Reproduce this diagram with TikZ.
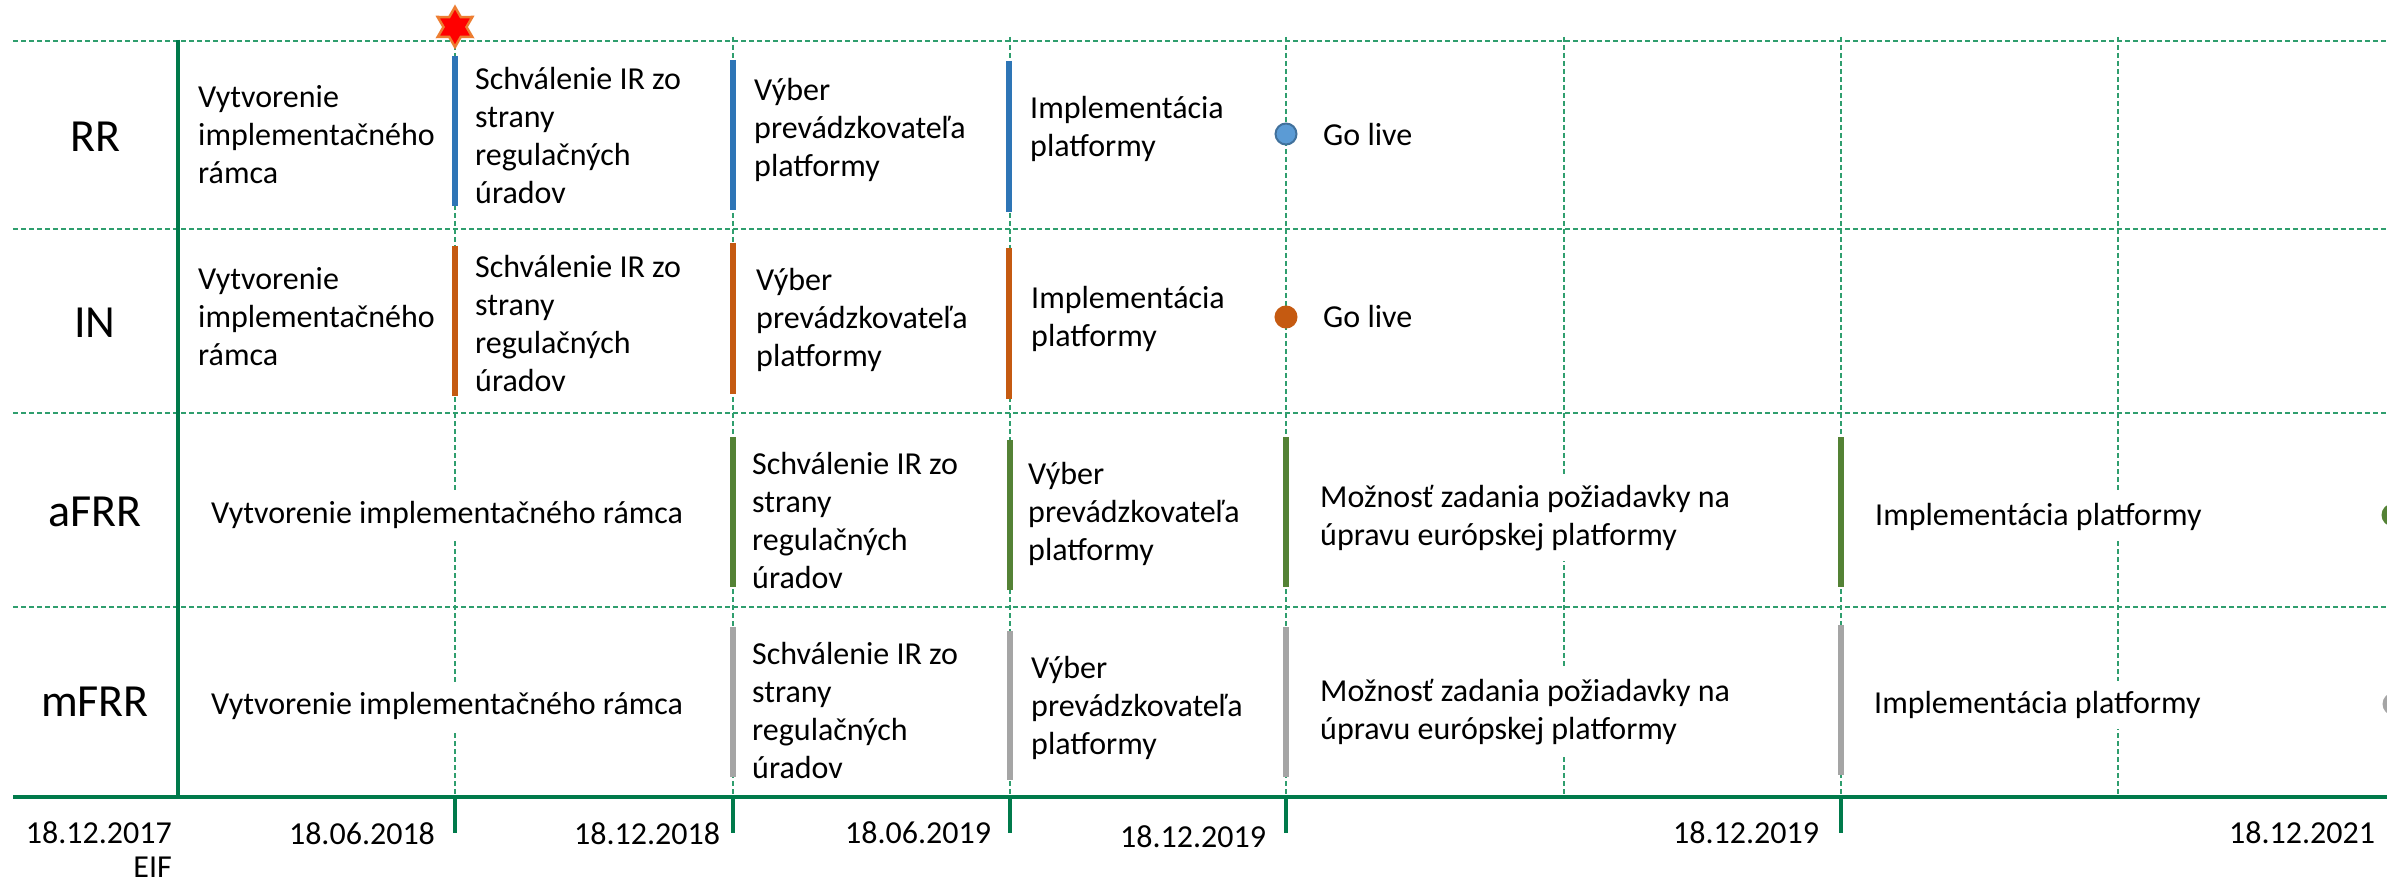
\documentclass[tikz,border=0pt]{standalone}
\usepackage{fontspec}
\setmainfont{Carlito}
\usetikzlibrary{shapes.geometric,calc}
\definecolor{axisgreen}{HTML}{007A4B}
\definecolor{dashgreen}{HTML}{2F9E6E}
\definecolor{barblue}{HTML}{2E75B6}
\definecolor{barorange}{HTML}{C55A11}
\definecolor{bargreen}{HTML}{548235}
\definecolor{bargrey}{HTML}{A5A5A5}
\definecolor{circblue}{HTML}{5B9BD5}
\definecolor{circblueb}{HTML}{41719C}
\definecolor{starorange}{HTML}{ED7D31}
\begin{document}
\begin{tikzpicture}[x=1pt,y=-1pt,
  gridline/.style={draw=dashgreen,line width=1.5pt,dash pattern=on 5pt off 3pt},
  barline/.style={line width=6pt},
  txt/.style={font=\fontsize{32}{38}\selectfont,align=left,anchor=west,inner xsep=0pt,inner ysep=2pt},
  txtw/.style={txt,fill=white,inner ysep=10pt},
  rowlab/.style={font=\fontsize{46}{50}\selectfont,inner sep=0pt},
  datelab/.style={font=\fontsize{32}{37}\selectfont,inner sep=0pt},
  tickline/.style={draw=axisgreen,line width=4pt},
  golive/.style={circle,minimum size=21pt,inner sep=0pt,line width=2pt},
  starstyle/.style={fill=red,draw=starorange,line width=2.5pt,line join=miter}]
\clip (0,0) rectangle (2387,882);
\fill[white] (0,0) rectangle (2387,882);

% grid
\foreach \y in {41,229,413,607} \draw[gridline] (13,\y) -- (2387,\y);
\foreach \x in {455,733,1010,1286,1564,1841,2118} \draw[gridline] (\x,37) -- (\x,797);

% row labels
\node[rowlab] (lrr) at (95,137) {RR};
\node[rowlab] (lin) at (95,323) {IN};
\node[rowlab] (lafrr) at (95,512) {aFRR};
\node[rowlab] (lmfrr) at (95,702) {mFRR};

% RR row
\node[txt] (rr1) at (198,135) {Vytvorenie\\implementačného\\rámca};
\node[txt] (rr2) at (475,136) {Schválenie IR zo\\strany\\regulačných\\úradov};
\node[txt] (rr3) at (754,130) {Výber\\prevádzkovateľa\\platformy};
\node[txt] (rr4) at (1030,129) {Implementácia\\platformy};
\node[txt] (rr5) at (1323,135) {Go live};
\draw[barline,barblue] (455,56) -- (455,206);
\draw[barline,barblue] (733,60) -- (733,210);
\draw[barline,barblue] (1009,61) -- (1009,212);
\node[golive,fill=circblue,draw=circblueb] (grr) at (1286,134) {};

% IN row
\node[txt] (in1) at (198,317) {Vytvorenie\\implementačného\\rámca};
\node[txt] (in2) at (475,324) {Schválenie IR zo\\strany\\regulačných\\úradov};
\node[txt] (in3) at (756,320) {Výber\\prevádzkovateľa\\platformy};
\node[txt] (in4) at (1031,319) {Implementácia\\platformy};
\node[txt] (in5) at (1323,317) {Go live};
\draw[barline,barorange] (455,246) -- (455,396);
\draw[barline,barorange] (733,243) -- (733,394);
\draw[barline,barorange] (1009,248) -- (1009,399);
\node[golive,fill=barorange,draw=barorange] (gin) at (1286,317) {};

% aFRR row
\node[txtw] (af1) at (211,515) {Vytvorenie implementačného rámca};
\node[txt] (af2) at (752,521) {Schválenie IR zo\\strany\\regulačných\\úradov};
\node[txt] (af3) at (1028,514) {Výber\\prevádzkovateľa\\platformy};
\node[txtw] (af4) at (1320,518) {Možnosť zadania požiadavky na\\úpravu európskej platformy};
\node[txtw] (af5) at (1875,517) {Implementácia platformy};
\draw[barline,bargreen] (733,437) -- (733,587);
\draw[barline,bargreen] (1010,440) -- (1010,590);
\draw[barline,bargreen] (1286,437) -- (1286,587);
\draw[barline,bargreen] (1841,437) -- (1841,587);
\node[golive,fill=bargreen,draw=bargreen] (gaf) at (2393,515) {};

% mFRR row
\node[txtw] (mf1) at (211,706) {Vytvorenie implementačného rámca};
\node[txt] (mf2) at (752,711) {Schválenie IR zo\\strany\\regulačných\\úradov};
\node[txt] (mf3) at (1031,708) {Výber\\prevádzkovateľa\\platformy};
\node[txtw] (mf4) at (1320,712) {Možnosť zadania požiadavky na\\úpravu európskej platformy};
\node[txtw] (mf5) at (1874,705) {Implementácia platformy};
\draw[barline,bargrey] (733,627) -- (733,777);
\draw[barline,bargrey] (1010,631) -- (1010,780);
\draw[barline,bargrey] (1286,627) -- (1286,777);
\draw[barline,bargrey] (1841,625) -- (1841,775);
\node[golive,fill=bargrey,draw=bargrey] (gmf) at (2394,704) {};

% star (hexagram) at the first milestone
\coordinate (stc) at (455,27);
\draw[starstyle] ($(stc)+(90:20)$)
  -- ($(stc)+(120:11.5)$) -- ($(stc)+(150:20)$) -- ($(stc)+(180:11.5)$)
  -- ($(stc)+(210:20)$) -- ($(stc)+(240:11.5)$) -- ($(stc)+(270:20)$)
  -- ($(stc)+(300:11.5)$) -- ($(stc)+(330:20)$) -- ($(stc)+(0:11.5)$)
  -- ($(stc)+(30:20)$) -- ($(stc)+(60:11.5)$) -- cycle;

% axes
\draw[axisgreen,line width=4pt] (178,40) -- (178,797);
\draw[axisgreen,line width=4pt] (13,797) -- (2387,797);
\foreach \x in {455,733,1010,1286,1841} \draw[tickline] (\x,797) -- (\x,833);

% dates
\node[datelab,anchor=east] (d0) at (172,833) {18.12.2017};
\node[datelab,anchor=east] (d0b) at (172,867) {EIF};
\node[datelab] (d1) at (362,834) {18.06.2018};
\node[datelab] (d2) at (647,834) {18.12.2018};
\node[datelab] (d3) at (918,833) {18.06.2019};
\node[datelab] (d4) at (1193,837) {18.12.2019};
\node[datelab] (d5) at (1746,833) {18.12.2019};
\node[datelab] (d6) at (2302,833) {18.12.2021};
\end{tikzpicture}
\end{document}
